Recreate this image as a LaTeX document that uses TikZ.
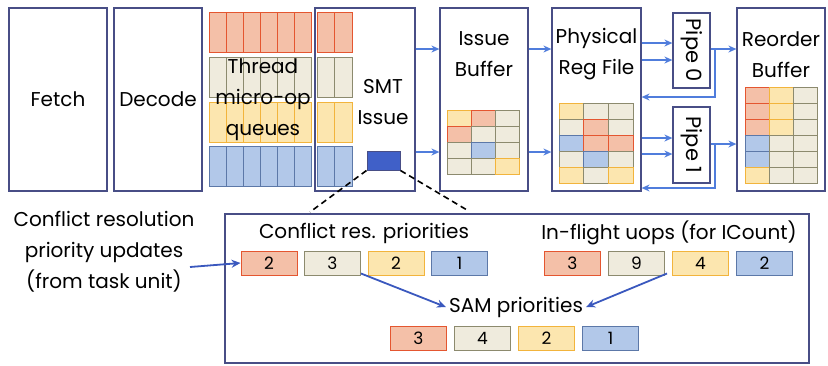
\documentclass[tikz,border=0pt]{standalone}
\usepackage{fontspec}
\setmainfont{Poppins}
\usetikzlibrary{arrows.meta, positioning, calc}
\definecolor{stageline}{RGB}{72, 78, 134}
\definecolor{flowblue}{RGB}{80, 125, 220}
\definecolor{darkflow}{RGB}{58, 88, 190}
\definecolor{redline}{RGB}{228, 86, 48}
\definecolor{redfill}{RGB}{244, 192, 168}
\definecolor{beigeline}{RGB}{140, 138, 110}
\definecolor{beigefill}{RGB}{239, 235, 221}
\definecolor{yellowline}{RGB}{242, 180, 60}
\definecolor{yellowfill}{RGB}{252, 230, 175}
\definecolor{blueline}{RGB}{92, 120, 168}
\definecolor{bluefill}{RGB}{178, 200, 233}
\definecolor{selblue}{RGB}{64, 96, 200}

% grid of coloured entries: x, y, columns, cell width, cell height, styles
\newcommand{\entrygrid}[6]{%
  \foreach \c [count=\k from 0] in {#6} {
    \pgfmathtruncatemacro{\col}{mod(\k,#3)}
    \pgfmathtruncatemacro{\row}{div(\k,#3)}
    \draw[\c] ({#1+\col*#4},{#2+\row*#5}) rectangle ++(#4,#5);
  }}

\begin{document}
\begin{tikzpicture}[x=1pt, y=-1pt,
        >=Stealth,
        every node/.style={font=\fontsize{20}{31}\selectfont, align=center, inner sep=0pt},
        stage/.style={draw=stageline, line width=1.2pt},
        cr/.style={draw=redline, fill=redfill, line width=1pt},
        cg/.style={draw=beigeline, fill=beigefill, line width=1pt},
        cy/.style={draw=yellowline, fill=yellowfill, line width=1pt},
        cb/.style={draw=blueline, fill=bluefill, line width=1pt},
        prio/.style={minimum width=56pt, minimum height=24pt, font=\fontsize{17}{20}\selectfont},
        flow/.style={->, flowblue, line width=2pt, >={Stealth[length=8pt, width=7pt]}},
        flowdark/.style={->, darkflow, line width=1.8pt, >={Stealth[length=9pt, width=8pt]}}]

  \useasboundingbox (0,0) rectangle (828,365);

  % Front end
  \node[stage, minimum width=98pt, minimum height=183pt] (fetch) at (58,99.5) {Fetch};
  \node[stage, minimum width=88pt, minimum height=183pt] (decode) at (158,99.5) {Decode};

  % Per-thread micro-op queues
  \foreach \s/\yy in {cr/12, cg/57.5, cy/102, cb/146.5} {
    \entrygrid{209}{\yy}{6}{17}{40}{\s,\s,\s,\s,\s,\s}
    \entrygrid{317}{\yy}{2}{17.5}{40}{\s,\s}
  }
  \node (queuetxt) at (263,100) {Thread\\micro-op\\queues};

  % SMT issue stage
  \node[stage, minimum width=100pt, minimum height=183pt] (smt) at (365,99.5) {};
  \node (smttxt) at (383,102) {SMT\\Issue};
  \node[draw=stageline, fill=selblue, line width=1pt, minimum width=33pt, minimum height=19pt] (sel) at (383.5,160.5) {};

  % Back end
  \node[stage, minimum width=88pt, minimum height=183pt] (ib) at (484,99.5) {};
  \node (ibtxt) at (484,54.5) {Issue\\Buffer};
  \entrygrid{447}{110}{3}{24.3}{16.2}{cy,cr,cg,cr,cg,cg,cg,cb,cg,cg,cg,cy}

  \node[stage, minimum width=89pt, minimum height=183pt] (prf) at (596.5,99.5) {};
  \node (prftxt) at (596.5,54.5) {Physical\\Reg File};
  \entrygrid{559}{103}{3}{24.7}{16}{cy,cg,cg,cg,cr,cg,cb,cr,cr,cg,cb,cg,cy,cg,cy}

  \node[stage, minimum width=37pt, minimum height=75pt] (pipe0) at (691.5,50.5) {};
  \node[rotate=-90, font=\fontsize{21}{25}\selectfont] (p0txt) at (pipe0) {Pipe 0};
  \node[stage, minimum width=37pt, minimum height=76pt] (pipe1) at (691.5,145) {};
  \node[rotate=-90, font=\fontsize{21}{25}\selectfont] (p1txt) at (pipe1) {Pipe 1};

  \node[stage, minimum width=88pt, minimum height=183pt] (rob) at (781,99.5) {};
  \node (robtxt) at (781,54.5) {Reorder\\Buffer};
  \entrygrid{745}{87}{3}{24.3}{16}{cr,cy,cg,cr,cy,cg,cr,cy,cg,cb,cg,cg,cb,cg,cg,cy,cg,cg}

  % Pipeline flow
  \foreach \yy in {49, 152} {
    \draw[flow] (smt.east |- 0,\yy) -- (ib.west |- 0,\yy);
    \draw[flow] (ib.east |- 0,\yy) -- (prf.west |- 0,\yy);
  }
  \foreach \yy in {43, 60} \draw[flow] (prf.east |- 0,\yy) -- (pipe0.west |- 0,\yy);
  \foreach \yy in {138, 154} \draw[flow] (prf.east |- 0,\yy) -- (pipe1.west |- 0,\yy);
  \coordinate (j0) at (715,49);
  \coordinate (j1) at (715,144);
  \draw[flowblue, line width=2pt] (pipe0.east |- j0) -- (j0);
  \draw[flowblue, line width=2pt] (pipe1.east |- j1) -- (j1);
  \draw[flow] (j0) -- (rob.west |- j0);
  \draw[flow] (j1) -- (rob.west |- j1);
  \draw[flow] (j0) |- (prf.east |- 0,97);
  \draw[flow] (j1) |- (prf.east |- 0,188);

  % Priority computation detail
  \node[stage, minimum width=584pt, minimum height=149pt] (detail) at (517,288.5) {};
  \coordinate (dl) at (310,212);
  \coordinate (dr) at (467,210);
  \draw[dash pattern=on 6pt off 4pt, line width=1.6pt] (sel.south west) -- (dl);
  \draw[dash pattern=on 6pt off 4pt, line width=1.6pt] (sel.south east) -- (dr);

  \node (crtxt) at (364,233) {Conflict res. priorities};
  \node (iftxt) at (669,233) {In-flight uops (for ICount)};
  \node (samtxt) at (516,307) {SAM priorities};
  \foreach \v/\s [count=\i] in {2/cr, 3/cg, 2/cy, 1/cb}
    \node[\s, prio] (cr\i) at ({269+(\i-1)*63.5},263) {\v};
  \foreach \v/\s [count=\i] in {3/cr, 9/cg, 4/cy, 2/cb}
    \node[\s, prio] (if\i) at ({572.5+(\i-1)*64},263) {\v};
  \foreach \v/\s [count=\i] in {3/cr, 4/cg, 2/cy, 1/cb}
    \node[\s, prio] (sp\i) at ({418.5+(\i-1)*64},338) {\v};
  \draw[flowdark] ([yshift=2pt]cr2.south east) -- ([xshift=-3pt]samtxt.west);
  \draw[flowdark] ([xshift=2pt,yshift=2pt]if2.south east) -- ([xshift=3pt]samtxt.east);

  % Updates from the task unit
  \node (updtxt) at (104,252) {Conflict resolution\\priority updates\\(from task unit)};
  \coordinate (upd) at (190,267);
  \draw[flowdark] (upd) -- (cr1.west);

\end{tikzpicture}
\end{document}
